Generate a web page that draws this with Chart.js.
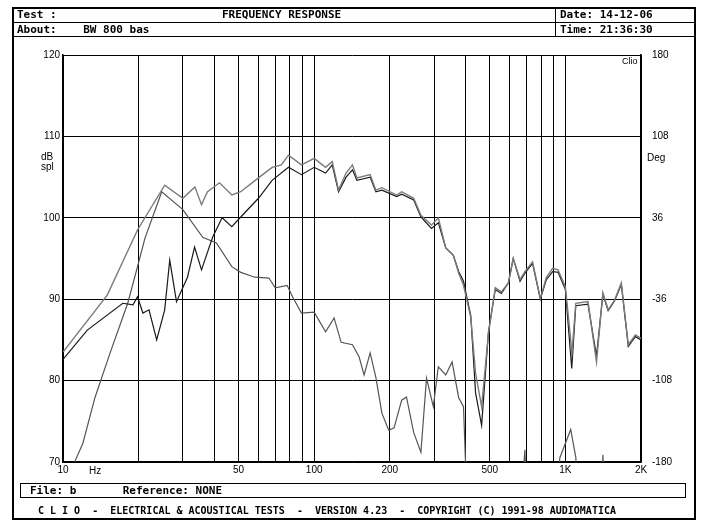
<!DOCTYPE html>
<html><head><meta charset="utf-8">
<script src="https://cdn.jsdelivr.net/npm/chart.js@4"></script>
<style>
body{margin:0;background:#fff;width:705px;height:529px;position:relative;overflow:hidden;font-family:"DejaVu Sans Mono",monospace;font-weight:bold;font-size:11px;color:#000}
canvas{position:absolute;left:0;top:0}
.b{position:absolute;border:1.5px solid #000;box-sizing:border-box}
.t{position:absolute;white-space:pre}
.s{position:absolute;font-family:"Liberation Sans",Arial,sans-serif;font-weight:normal;font-size:10px}
</style></head><body>
<canvas id="c" width="705" height="529"></canvas>
<div class="b" style="left:12px;top:7px;width:684px;height:513px;border-width:2px"></div>
<div class="b" style="left:12px;top:7px;width:684px;height:16px"></div>
<div class="b" style="left:12px;top:22px;width:684px;height:15px"></div>
<div class="b" style="left:555px;top:7px;width:141px;height:30px"></div>
<div class="t" style="left:17px;top:8px">Test :</div>
<div class="t" style="left:222px;top:8px">FREQUENCY RESPONSE</div>
<div class="t" style="left:17px;top:23px">About:    BW 800 bas</div>
<div class="t" style="left:560px;top:8px">Date: 14-12-06</div>
<div class="t" style="left:560px;top:23px">Time: 21:36:30</div>
<div class="b" style="left:20px;top:483px;width:666px;height:15px"></div>
<div class="t" style="left:30px;top:484px">File: b       Reference: NONE</div>
<div class="t" style="left:38px;top:505px;font-size:10px">C L I O  -  ELECTRICAL &amp; ACOUSTICAL TESTS  -  VERSION 4.23  -  COPYRIGHT (C) 1991-98 AUDIOMATICA</div>
<div class="s" style="left:41px;top:152px;line-height:10px">dB<br>spl</div>
<div class="s" style="left:647px;top:152px">Deg</div>
<div class="s" style="left:622px;top:56px;font-size:9px">Clio</div>
<div class="s" style="left:89px;top:465px">Hz</div>
<script>
const freqA = [10,15,19.8,25.4,30,33.5,35.6,37.6,42,47,51,60,68,74,79,89,100,111,118,125,134,142,148,167,176,186,213,223,249,266,293,312,334,358,376,393,420,439,464,494,526,556,593,620,660,690,740,795,840,890,935,1000,1050,1060,1100,1230,1330,1410,1480,1570,1670,1780,1900,2000];
const splA = [83.5,90.5,98.5,104,102.4,103.8,101.6,103.2,104.3,102.8,103.2,104.9,106.2,106.5,107.7,106.5,107.3,106.2,106.9,103.4,105.5,106.5,104.9,105.3,103.4,103.7,102.8,103.2,102.4,100.3,99.1,100,96.3,95.4,93.2,91.7,87.8,80.9,76.8,85.8,91.4,90.9,92,95,92.4,93.4,94.6,90.1,92.7,93.8,93.6,91.5,85,83,89.5,89.7,82.3,90.8,88.7,89.9,92,84.4,85.6,85.2];
const freqB = [10,12.5,17.3,19,19.8,20.8,22,23.6,25.4,26.6,28.3,31.3,33.4,35.6,39.4,43,47,51,60,68,79,89,100,111,118,125,134,142,148,167,176,186,213,223,249,266,293,312,334,358,376,393,420,439,464,494,526,556,593,620,660,690,740,795,840,890,935,1000,1060,1100,1230,1330,1410,1480,1570,1670,1780,1900,2000];
const splB = [82.6,86.2,89.5,89.3,90.3,88.3,88.7,85,88.7,94.8,89.7,92.7,96.4,93.6,97.6,100,98.9,100.1,102.4,104.6,106.2,105.3,106.2,105.5,106.5,103.2,105,105.9,104.6,105,103.2,103.4,102.6,102.9,102.2,100.1,98.7,99.4,96.3,95.4,93.4,92.2,88,78.5,74.5,86,91.2,90.7,92,95,92.2,93.2,94.4,90,92.4,93.4,93.3,91.2,81.5,89.2,89.4,83,90.6,88.6,89.8,91.8,84.2,85.4,85];
const freqC = [10.5,11.2,12,13.4,15.4,18.1,19.8,21.2,24.2,24.7,30,36,40.8,47,51,58,66,70,78,82,89,100,111,120,128,142,151,158,167,176,186,198,208,223,233,249,266,280,298,312,334,354,376,393,400,420,650,690,710,900,950,1050,1100,1150,1380,1410,1450];
const splC = [65,70.2,72.3,77.9,83.4,89.5,94,97.5,102.4,103.2,101,97.6,96.9,94,93.3,92.7,92.6,91.4,91.7,90.3,88.3,88.4,86,87.7,84.7,84.4,82.9,80.7,83.4,80.4,76,73.9,74.2,77.6,78,73.6,71.2,80.3,76.8,81.7,80.7,82.3,77.9,76.8,70.3,60,60,71.5,60,60,70.5,74,70.6,60,60,70.9,60];
const gridFreqs = [10,20,30,40,50,60,70,80,90,100,200,300,400,500,600,700,800,900,1000,2000];
const freqLabels = {10:'10',50:'50',100:'100',200:'200',500:'500',1000:'1K',2000:'2K'};
const degTicks = [-180,-108,-36,36,108,180];

const pts = (f, v) => f.map((x, i) => ({x, y: v[i]}));
const tickFont = {family: 'Liberation Sans', size: 10};

new Chart(document.getElementById('c'), {
    type: 'line',
    data: {
        datasets: [
            {data: pts(freqA, splA), borderColor: '#7a7a7a', borderWidth: 1.4},
            {data: pts(freqB, splB), borderColor: '#1a1a1a', borderWidth: 1.2},
            {data: pts(freqC, splC), borderColor: '#555', borderWidth: 1.2},
        ],
    },
    options: {
        responsive: false,
        animation: false,
        events: [],
        elements: {point: {radius: 0}, line: {tension: 0}},
        layout: {padding: {left: 23, right: 14, top: 55, bottom: 53}},
        plugins: {legend: {display: false}, tooltip: {enabled: false}},
        scales: {
            x: {
                type: 'logarithmic', min: 10, max: 2000,
                afterBuildTicks: (s) => { s.ticks = gridFreqs.map((v) => ({value: v})); },
                afterFit: (s) => { s.height = 14; },
                grid: {color: '#000', lineWidth: 1, drawTicks: false},
                border: {color: '#000', width: 1.5},
                ticks: {autoSkip: false, maxRotation: 0, color: '#000', font: tickFont, padding: 2,
                    callback: (v) => freqLabels[v] || ''},
            },
            y: {
                min: 70, max: 120,
                afterFit: (s) => { s.width = 40; },
                grid: {color: '#000', lineWidth: 1, drawTicks: false},
                border: {color: '#000', width: 1.5},
                ticks: {stepSize: 10, color: '#000', font: tickFont, padding: 3},
            },
            y2: {
                position: 'right', min: -180, max: 180,
                afterBuildTicks: (s) => { s.ticks = degTicks.map((v) => ({value: v})); },
                afterFit: (s) => { s.width = 50; },
                grid: {display: false},
                border: {color: '#000', width: 1.5},
                ticks: {color: '#000', font: tickFont, padding: 3},
            },
        },
    },
});
</script>
</body></html>
